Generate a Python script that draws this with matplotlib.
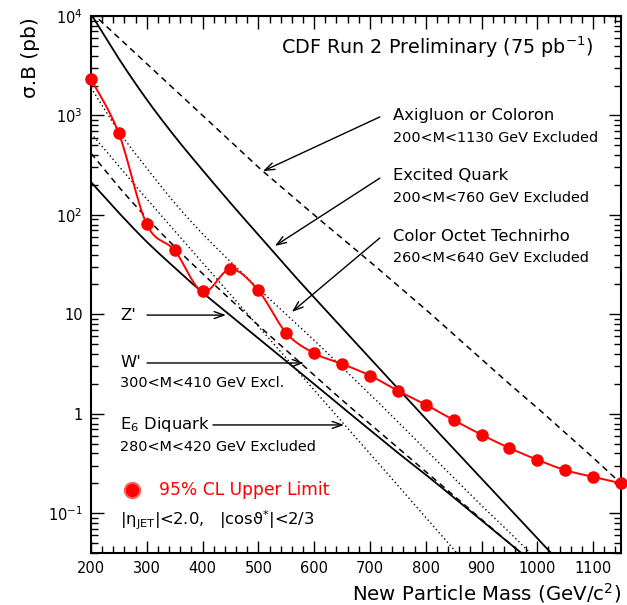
import numpy as np
import matplotlib
matplotlib.use("Agg")
import matplotlib.pyplot as plt
from matplotlib.ticker import MultipleLocator, LogLocator, FixedLocator, FixedFormatter, NullFormatter

# 95% CL upper limit (pb) vs mass (GeV/c^2)
limit_mass = [200, 250, 300, 350, 400, 450, 500, 550, 600, 650, 700, 750,
              800, 850, 900, 950, 1000, 1050, 1100, 1150]
limit_xs = [2320, 659, 80.4, 44.0, 17.0, 28.5, 17.4, 6.5, 4.07, 3.18, 2.43, 1.71,
            1.24, 0.867, 0.618, 0.454, 0.346, 0.272, 0.233, 0.201]

# theory curves (pb)
theory_mass = [200, 250, 300, 350, 400, 450, 500, 550, 600, 650, 700, 750,
               800, 850, 900, 950, 1000, 1050, 1100, 1150]
axigluon = [10960, 6030, 3311, 1820, 1000, 550, 302, 174, 100, 58.2, 33.9, 19.5,
            11.2, 6.31, 3.55, 2.00, 1.15, 0.646, 0.363, 0.200]
excited_quark = [10470, 3715, 1445, 617, 282, 132, 63.1, 30.2, 14.8, 7.33, 3.63, 1.80,
                 0.891, 0.447, 0.224, 0.112, 0.0562, 0.0282]
technirho = [1905, 692, 295, 132, 64.6, 33.9, 18.2, 10.0, 5.50, 2.95, 1.58, 0.832,
             0.437, 0.229, 0.120, 0.0646, 0.0339]
zprime = [214, 105, 53.7, 29.5, 16.6, 9.77, 5.75, 3.39, 2.00, 1.17, 0.692, 0.407,
          0.245, 0.145, 0.0851, 0.0501, 0.0295]
wprime = [417, 191, 93.3, 47.9, 25.7, 14.1, 7.76, 4.37, 2.45, 1.38, 0.794, 0.457,
          0.263, 0.151, 0.0871, 0.0501, 0.0288]
e6_diquark = [661, 309, 145, 69.2, 33.1, 15.8, 7.59, 3.63, 1.74, 0.832, 0.398, 0.191,
              0.0912, 0.0437, 0.0209]

plt.rcParams['font.family'] = ['DejaVu Sans']
fig = plt.figure(figsize=(6.27, 6.05), dpi=100)
ax = fig.add_axes([0.1451, 0.0860, 0.8453, 0.8876])
ax.set_yscale('log')
ax.set_xlim(200, 1150)
ax.set_ylim(0.04, 1e4)


def smooth(xs, ys, steps=16):
    # Catmull-Rom spline through the points, in (x, log y), only for drawing the line
    px = np.array(xs, float)
    py = np.log10(np.array(ys, float))
    n = len(px)
    t = np.linspace(0, 1, steps, endpoint=False)[:, None]
    out = []
    for i in range(n - 1):
        a, b = max(i - 1, 0), min(i + 2, n - 1)
        p0 = np.array([px[i], py[i]])
        p3 = np.array([px[i + 1], py[i + 1]])
        p1 = p0 + (p3 - np.array([px[a], py[a]])) / 6
        p2 = p3 - (np.array([px[b], py[b]]) - p0) / 6
        seg = ((1 - t) ** 3) * p0 + 3 * ((1 - t) ** 2) * t * p1 + 3 * (1 - t) * t ** 2 * p2 + t ** 3 * p3
        out.append(seg)
    out.append(np.array([[px[-1], py[-1]]]))
    out = np.vstack(out)
    return out[:, 0], 10 ** out[:, 1]


def theory(vals, **kw):
    x, y = smooth(theory_mass[:len(vals)], vals)
    ax.plot(x, y, color='black', **kw)


theory(axigluon, lw=1.1, ls=(0, (4, 3)))
theory(excited_quark, lw=1.3, ls='-')
theory(technirho, lw=1.0, ls=(0, (1, 2)))
theory(zprime, lw=1.3, ls='-')
theory(wprime, lw=1.1, ls=(0, (4, 3)))
theory(e6_diquark, lw=1.0, ls=(0, (1, 2)))

red = '#ff0000'
sx, sy = smooth(limit_mass, limit_xs)
ax.plot(sx, sy, color=red, lw=1.4, zorder=4)
ax.plot(limit_mass, limit_xs, 'o', color=red, ms=8, zorder=5, clip_on=False)

# ticks
ax.xaxis.set_major_locator(MultipleLocator(100))
ax.xaxis.set_minor_locator(MultipleLocator(20))
ax.yaxis.set_major_locator(FixedLocator([0.1, 1, 10, 100, 1000, 10000]))
ax.yaxis.set_major_formatter(FixedFormatter(['$10^{-1}$', '1', '10', '$10^{2}$', '$10^{3}$', '$10^{4}$']))
ax.yaxis.set_minor_locator(LogLocator(base=10, subs=np.arange(2, 10), numticks=20))
ax.yaxis.set_minor_formatter(NullFormatter())
ax.tick_params(which='both', direction='in', top=True, right=True, labelsize=10.5, width=1.0)
ax.tick_params(which='major', length=9, pad=6)
ax.tick_params(which='minor', length=5)
for s in ax.spines.values():
    s.set_linewidth(1.5)

fig.text(0.048, 0.972, 'σ.B (pb)', rotation=90, ha='center', va='top', fontsize=14.5)
fig.text(0.99, 1 - 593 / 605, 'New Particle Mass (GeV/c$^{2}$)', ha='right', va='center', fontsize=14.2)

ax.text(0.947, 0.9423, 'CDF Run 2 Preliminary (75 pb$^{-1}$)', transform=ax.transAxes,
        ha='right', va='center', fontsize=13.8)

fs = 10.4
tx = 0.570
labels = [
    ('Axigluon or Coloron', '200<M<1130 GeV Excluded', 0.8138, 0.7728),
    ('Excited Quark', '200<M<760 GeV Excluded', 0.702, 0.661),
    ('Color Octet Technirho', '260<M<640 GeV Excluded', 0.590, 0.549),
]
for l1, l2, y1, y2 in labels:
    ax.text(tx, y1, l1, transform=ax.transAxes, ha='left', va='center', fontsize=11.8)
    ax.text(tx, y2, l2, transform=ax.transAxes, ha='left', va='center', fontsize=fs)

arrow = dict(arrowstyle='->,head_length=0.7,head_width=0.25', color='black', lw=1.0,
             shrinkA=0, shrinkB=0)
for start, tip in [((0.545, 0.812), (0.3245, 0.711)),
                   ((0.545, 0.698), (0.347, 0.5717)),
                   ((0.545, 0.5866), (0.379, 0.4488)),
                   ((0.1057, 0.443), (0.2547, 0.443)),
                   ((0.1057, 0.3538), (0.4019, 0.3538)),
                   ((0.2302, 0.2384), (0.4774, 0.2384))]:
    ax.annotate('', xy=tip, xytext=start, xycoords='axes fraction',
                textcoords='axes fraction', arrowprops=arrow)

lx = 0.0547
ax.text(lx, 0.443, "Z'", transform=ax.transAxes, ha='left', va='center', fontsize=11.8)
ax.text(lx, 0.3538, "W'", transform=ax.transAxes, ha='left', va='center', fontsize=11.8)
ax.text(lx, 0.3166, '300<M<410 GeV Excl.', transform=ax.transAxes, ha='left', va='center', fontsize=fs)
ax.text(lx, 0.2384, 'E$_6$ Diquark', transform=ax.transAxes, ha='left', va='center', fontsize=11.8)
ax.text(lx, 0.1974, '280<M<420 GeV Excluded', transform=ax.transAxes, ha='left', va='center', fontsize=fs)

ax.plot([0.0774], [0.1173], 'o', color=red, ms=11, mfc=red, mec='#ff6060', mew=1.5,
        transform=ax.transAxes, clip_on=False)
ax.text(0.1283, 0.1173, '95% CL Upper Limit', transform=ax.transAxes, ha='left', va='center',
        fontsize=12.3, color=red)
ax.text(lx, 0.0615, '|η$_{\\rm JET}$|<2.0,   |cosϑ$^{*}$|<2/3', transform=ax.transAxes,
        ha='left', va='center', fontsize=11.8)

fig.savefig('out.png', dpi=100)
